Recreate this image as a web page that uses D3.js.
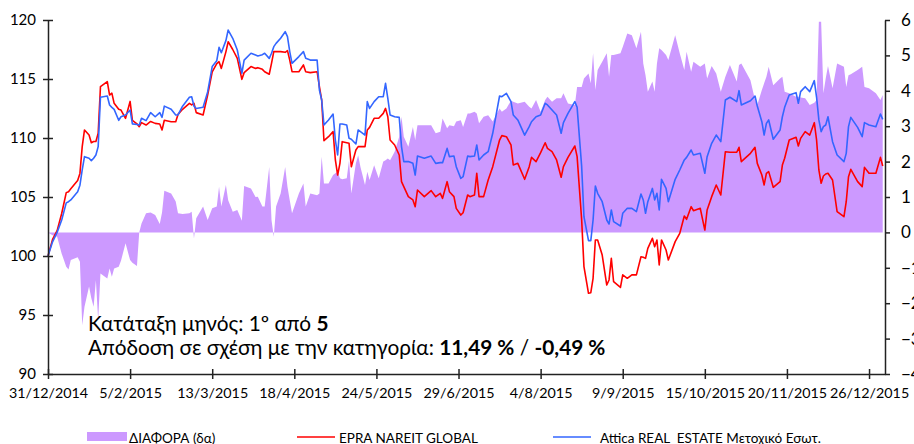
<!DOCTYPE html>
<html>
  <head>
    <meta charset="UTF-8">
    <script src="https://d3js.org/d3.v7.min.js"></script>
    <style>
      body { margin: 0; background: #fff; }
      text { font-family: Lato, "Open Sans", sans-serif; fill: #000; }
    </style>
  </head>
  <body>
    <svg id="chart" width="914" height="444"></svg>
    <script type="text/javascript">
      // days since 31/12/2014
      var days = [
        0, 2, 4, 6, 8, 9, 10, 13, 14, 15, 16, 18, 19, 20, 21, 22, 23, 26, 27, 28,
        29, 31, 32, 34, 36, 37, 39, 40, 41, 43, 45, 47, 49, 50, 51, 54, 56, 57, 59, 62,
        63, 64, 65, 68, 70, 72, 74, 75, 76, 78, 79, 81, 83, 85, 86, 89, 91,
        92, 94, 95, 97, 98, 99, 100, 102, 104, 105, 106, 107, 110, 112, 113, 115, 118, 119, 120,
        121, 123, 125, 126, 127, 128, 129, 131, 132, 133, 135, 136, 137, 139, 140, 141, 143, 145, 147, 148,
        149, 150, 152, 154, 155, 156, 158, 160, 161, 162, 165, 168, 170, 172, 173, 175, 176, 178, 179, 181,
        182, 184, 185,
        187, 188, 189, 191, 193, 195, 198, 199, 201, 203, 204, 206, 209, 211, 212, 214, 216, 218, 219, 221,
        223, 225, 226, 228, 231, 232, 234, 235, 237, 238, 239, 240, 241, 243, 245, 246, 247, 248, 251, 252,
        254, 256, 258, 260, 261, 262, 263, 265, 266, 267, 268, 269, 271, 272, 275, 277,
        279, 280, 282, 283, 286, 288, 289, 291, 293, 295, 297, 299, 302, 303, 304, 308, 310, 311, 313, 314,
        315, 316, 318, 321, 322, 323, 325, 328, 329, 330, 332, 334, 336, 337, 338, 339, 340, 341, 342, 344,
        346, 349, 350, 351, 352, 355, 357, 358, 360, 363, 365, 366
      ];

      var epra = [
        100.0, 101.4, 102.15, 103.6, 105.37, 105.45, 105.7, 106.4, 107.0, 109.27, 110.68, 110.25, 109.6, 109.7, 109.7, 110.4, 114.35, 114.77, 113.64, 113.8,
        112.94, 112.43, 112.37, 111.67, 113.1, 111.5, 111.2, 110.96, 111.3, 111.1, 111.4, 111.24, 111.19, 110.68, 111.5, 111.38, 111.38, 112.0, 112.43, 112.94,
        112.8, 112.94, 112.15, 111.95, 113.64, 115.6, 116.3, 116.47, 115.9, 117.3, 118.16, 117.5, 116.75, 114.97, 115.54, 116.05, 115.9,
        115.96, 115.82, 115.62, 115.4, 116.33, 117.32, 117.32, 117.32, 117.26, 117.4, 116.6, 115.62, 115.62, 116.19, 115.62, 115.54, 115.62, 114.35, 113.22,
        109.77, 110.11, 110.54, 108.14, 106.86, 107.85, 109.69, 109.6, 109.55, 107.57, 108.98, 109.27, 109.27, 109.27, 110.68, 110.9, 111.67, 111.67, 112.09, 112.51,
        111.8, 109.83, 109.41, 108.56, 106.3, 105.88, 105.03, 104.75, 104.18, 105.59, 105.03, 105.54, 105.03, 105.31, 104.89, 106.3, 105.45, 105.03, 104.04, 103.47,
        103.67, 105.17, 105.03,
        105.17, 107.0, 105.03, 105.03, 106.44, 107.57, 109.83, 110.2, 110.11, 109.41, 107.71, 107.85, 106.5, 107.57, 108.36, 108.0, 108.76, 109.6, 109.12, 108.84,
        108.14, 106.67, 107.57, 108.36, 109.32, 108.42, 103.05, 99.1, 96.84, 96.89, 98.11, 101.36, 101.36, 100.08, 97.54, 97.97, 99.8, 97.82, 97.34, 98.4,
        98.11, 98.4, 98.4, 99.94, 99.89, 99.8, 100.65, 101.5, 100.79, 101.36, 99.24, 101.36, 100.51, 99.66, 101.22, 101.92,
        103.39, 103.11, 104.18, 103.84, 104.04, 102.2, 103.9, 105.03, 106.02, 105.17, 108.84, 108.79, 108.79, 109.21, 108.0, 108.7, 109.21, 107.85, 106.86, 106.02,
        107.0, 107.15, 105.82, 106.3, 107.71, 108.28, 109.83, 110.06, 109.32, 109.97, 110.54, 110.25, 111.3, 109.83, 107.29, 106.16, 106.78, 106.95, 107.01, 106.44,
        103.76, 103.33, 104.6, 106.72, 107.34, 106.3, 105.88, 107.51, 107.01, 107.01, 108.36, 107.63
      ];

      var attica = [
        100.0, 101.2, 102.0, 103.05, 104.5, 104.6, 104.75, 105.45, 106.0, 107.3, 108.42, 108.28, 108.08, 108.28, 108.56, 109.27, 113.45, 113.56, 112.8, 112.6,
        112.43, 111.5, 111.8, 111.95, 112.37, 111.2, 111.15, 111.1, 111.67, 111.47, 112.15, 111.8, 112.15, 111.75, 112.7, 112.43, 111.95, 111.95, 112.7, 113.45,
        113.5, 112.7, 112.5, 112.6, 113.9, 116.05, 116.55, 117.68, 117.23, 118.25, 119.15, 118.45, 117.46, 115.48, 116.6, 117.18, 117.03,
        116.95, 117.06, 117.18, 116.75, 117.18, 117.74, 118.02, 118.45, 119.01, 118.59, 117.32, 116.33, 116.9, 117.32, 116.75, 116.6, 116.6, 114.07, 113.22,
        111.1, 111.53, 112.03, 109.83, 108.56, 111.19, 111.19, 111.1, 109.97, 109.89, 109.49, 110.68, 110.54, 110.25, 113.08, 112.51, 113.08, 113.5, 113.5, 114.63,
        113.36, 111.95, 111.8, 111.75, 109.27, 108.0, 108.0, 107.85, 106.86, 108.47, 108.28, 108.47, 107.85, 107.91, 107.91, 109.12, 108.42, 108.47, 107.57, 106.58,
        106.72, 108.47, 108.42,
        108.47, 109.41, 108.14, 108.56, 108.84, 110.4, 113.56, 113.5, 113.79, 113.08, 111.95, 111.53, 110.25, 110.96, 111.38, 111.8, 111.95, 112.94, 112.8, 112.37,
        111.95, 110.4, 111.3, 112.09, 113.08, 112.6, 107.57, 103.33, 101.3, 101.3, 103.05, 105.93, 105.31, 104.6, 103.05, 102.71, 103.9, 102.91, 102.54, 103.62,
        104.04, 104.04, 103.76, 105.25, 104.75, 103.62, 104.6, 105.73, 104.75, 105.31, 103.9, 106.5, 105.73, 104.6, 106.5, 107.29,
        108.14, 108.36, 108.98, 108.56, 108.7, 107.01, 108.42, 109.55, 110.25, 109.69, 113.22, 113.45, 113.08, 114.01, 112.8, 113.16, 113.56, 112.71, 111.38, 110.25,
        111.24, 111.53, 109.89, 110.68, 111.8, 112.6, 113.64, 113.84, 112.94, 113.93, 114.35, 113.93, 114.86, 113.45, 111.53, 110.54, 110.96, 111.1, 111.8, 109.69,
        108.56, 108.0, 108.7, 110.96, 111.75, 110.9, 110.11, 111.3, 111.1, 110.96, 112.03, 111.58
      ];

      var diff = [
        0.0, -0.08, -0.12, -0.6, -0.97, -1.05, -0.78, -0.7, -0.83, -2.62, -2.1, -1.53, -1.86, -2.1, -1.35, -2.48, -1.16, -1.3, -1.02, -1.25,
        -1.02, -0.97, -0.8, -0.31, -0.78, -0.86, -0.95, 0.0, 0.25, 0.54, 0.56, 0.49, 0.24, 0.56, 1.18, 1.1, 0.87, 0.54, 0.52, 0.54,
        0.58, -0.17, 0.4, 0.73, 0.35, 0.68, 0.73, 1.29, 0.73, 1.34, 0.91, 0.58, 0.63, 0.33, 1.31, 1.24, 1.0,
        1.01, 0.73, 0.73, 1.85, 0.35, -0.12, 0.73, 1.1, 1.85, 1.29, 0.91, 0.54, 1.1, 1.38, 0.73, 1.1, 1.05, 1.1, 2.14,
        1.38, 1.38, 1.62, 1.67, 1.71, 1.53, 1.5, 1.53, 2.04, 1.1, 1.95, 2.18, 1.85, 1.34, 1.71, 1.48, 1.9, 1.53, 2.0, 2.04,
        2.09, 2.04, 2.28, 2.7, 3.27, 2.7, 2.42, 2.98, 2.61, 3.03, 3.03, 3.03, 2.8, 2.84, 3.22, 2.94, 3.03, 3.0, 3.13, 3.17,
        2.98, 3.36, 3.36,
        3.41, 3.36, 3.08, 3.27, 3.31, 3.13, 3.5, 3.41, 3.5, 3.72, 3.69, 3.64, 3.69, 3.55, 3.5, 3.74, 3.41, 3.74, 3.83, 3.69,
        3.79, 3.79, 3.93, 3.64, 3.6, 4.11, 4.11, 4.35, 4.49, 4.21, 5.06, 4.02, 4.59, 4.82, 5.06, 4.4, 5.01, 5.01, 5.06, 5.24,
        5.62, 5.57, 5.2, 5.67, 4.77, 4.44, 3.97, 4.26, 3.97, 4.77, 5.2, 5.15, 5.01, 4.87, 5.57, 5.06,
        4.59, 5.1, 4.54, 4.82, 4.68, 4.77, 4.35, 4.7, 4.49, 3.97, 4.4, 4.73, 4.26, 4.73, 4.77, 4.3, 3.74, 3.6, 4.02, 4.21,
        4.4, 4.68, 4.16, 4.35, 4.4, 3.97, 3.93, 3.83, 3.83, 3.81, 3.79, 3.6, 3.66, 3.74, 5.95, 5.95, 3.93, 4.35, 4.7, 4.07,
        4.77, 4.68, 4.11, 4.44, 4.47, 4.59, 4.68, 4.11, 4.07, 3.93, 3.74, 3.88
      ];

      var leftTicks = [90, 95, 100, 105, 110, 115, 120];
      var rightTicks = [-4, -3, -2, -1, 0, 1, 2, 3, 4, 5, 6];
      var tickDays = [0, 36, 72, 108, 144, 180, 216, 252, 288, 324, 360];
      var legendLabels = ["ΔΙΑΦΟΡΑ (δα)", "EPRA NAREIT GLOBAL", "Attica REAL  ESTATE Μετοχικό Εσωτ."];

      var start = new Date(2014, 11, 31);
      var toDate = function(d) { return d3.timeDay.offset(start, d); };

      var svg = d3.select('#chart');

      var x = d3.scaleTime()
        .domain([start, toDate(367)])
        .range([48, 885]);
      var yL = d3.scaleLinear().domain([90, 120]).range([374, 20]);
      var yR = d3.scaleLinear().domain([-4, 6]).range([374, 20]);

      var rows = days.map(function(d, i) {
        return { date: toDate(d), epra: epra[i], attica: attica[i], diff: diff[i] };
      });

      // difference area on the right axis
      svg.append('path')
        .datum(rows)
        .attr('fill', '#cc99ff')
        .attr('d', d3.area()
          .x(function(d) { return x(d.date); })
          .y0(yR(0))
          .y1(function(d) { return yR(d.diff); }));

      svg.append('path')
        .datum(rows)
        .attr('fill', 'none')
        .attr('stroke', '#ff0000')
        .attr('stroke-width', 1.6)
        .attr('stroke-linejoin', 'round')
        .attr('d', d3.line()
          .x(function(d) { return x(d.date); })
          .y(function(d) { return yL(d.epra); }));

      svg.append('path')
        .datum(rows)
        .attr('fill', 'none')
        .attr('stroke', '#3366ff')
        .attr('stroke-width', 1.6)
        .attr('stroke-linejoin', 'round')
        .attr('d', d3.line()
          .x(function(d) { return x(d.date); })
          .y(function(d) { return yL(d.attica); }));

      // axes
      var gx = svg.append('g')
        .attr('transform', 'translate(0,374)')
        .call(d3.axisBottom(x)
          .tickValues(tickDays.map(toDate))
          .tickFormat(d3.timeFormat('%-d/%-m/%Y'))
          .tickSize(5)
          .tickSizeOuter(0));
      gx.selectAll('.tick line').attr('y1', -5);
      gx.selectAll('.tick text').attr('dy', 0).attr('y', 24);

      var gl = svg.append('g')
        .attr('transform', 'translate(48,0)')
        .call(d3.axisLeft(yL).tickValues(leftTicks).tickSize(5).tickSizeOuter(0));
      gl.selectAll('.tick line').attr('x1', 5);
      gl.selectAll('.tick text').attr('x', -12);

      var gr = svg.append('g')
        .attr('transform', 'translate(885,0)')
        .call(d3.axisRight(yR).tickValues(rightTicks).tickSize(5).tickSizeOuter(0));
      gr.selectAll('.tick text').attr('x', 16);

      svg.selectAll('.domain, .tick line')
        .attr('stroke', '#222')
        .attr('stroke-width', 1.5);
      svg.selectAll('.tick text')
        .attr('fill', '#000')
        .style('font-family', 'Lato, sans-serif')
        .style('font-size', '15px');
      gx.selectAll('.tick text').style('font-size', '14.3px');
      gr.selectAll('.tick text').style('font-size', '17px');

      // note
      var note = svg.append('g').style('font-size', '20.8px');
      var l1 = note.append('text').attr('x', 88).attr('y', 331);
      l1.append('tspan').text('Κατάταξη μηνός: 1º από ');
      l1.append('tspan').attr('font-weight', 'bold').text('5');
      var l2 = note.append('text').attr('x', 88).attr('y', 355);
      l2.append('tspan').text('Απόδοση σε σχέση με την κατηγορία: ');
      l2.append('tspan').attr('font-weight', 'bold').text('11,49 %');
      l2.append('tspan').text(' / ');
      l2.append('tspan').attr('font-weight', 'bold').text('-0,49 %');

      // legend
      var legend = svg.append('g').style('font-size', '13.5px');
      legend.append('rect')
        .attr('x', 87).attr('y', 432).attr('width', 40).attr('height', 9)
        .attr('fill', '#cc99ff');
      legend.append('text').attr('x', 129).attr('y', 443).text(legendLabels[0]);
      legend.append('line')
        .attr('x1', 297).attr('x2', 335).attr('y1', 437).attr('y2', 437)
        .attr('stroke', '#ff0000').attr('stroke-width', 1.5);
      legend.append('text').attr('x', 339).attr('y', 443).text(legendLabels[1]);
      legend.append('line')
        .attr('x1', 553).attr('x2', 591).attr('y1', 437).attr('y2', 437)
        .attr('stroke', '#3366ff').attr('stroke-width', 1.5);
      legend.append('text').attr('x', 600).attr('y', 443)
        .style('white-space', 'pre')
        .text(legendLabels[2]);
    </script>
  </body>
</html>
